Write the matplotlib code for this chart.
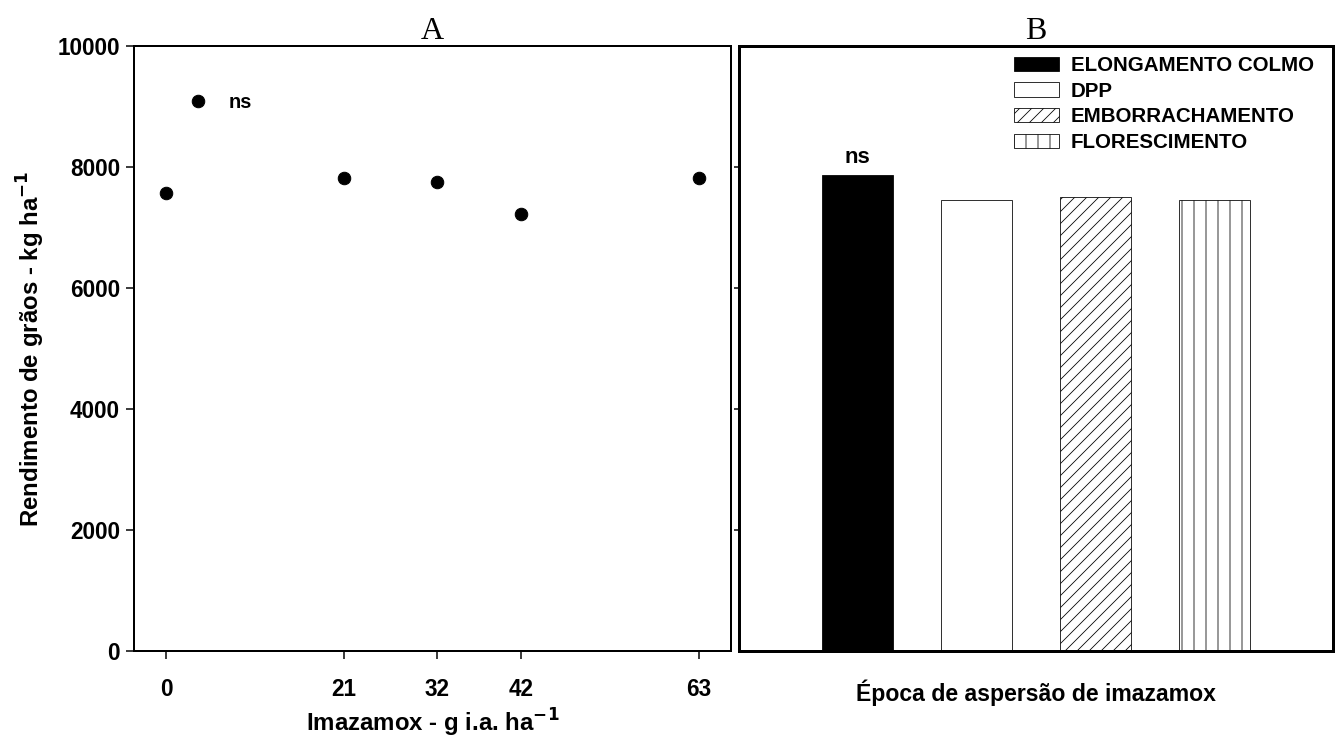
import matplotlib
matplotlib.use("Agg")
import matplotlib.pyplot as plt
import numpy as np
from matplotlib.lines import Line2D

plt.rcParams['font.family'] = ['Liberation Sans', 'DejaVu Sans']
plt.rcParams['font.weight'] = 'bold'
plt.rcParams['hatch.linewidth'] = 0.8

# panel A: yield vs imazamox dose
doses = [0, 21, 32, 42, 63]
rend_dose = [7570, 7820, 7760, 7230, 7820]

# panel B: yield by application timing
epocas = ['ELONGAMENTO COLMO', 'DPP', 'EMBORRACHAMENTO', 'FLORESCIMENTO']
rend_epoca = [7870, 7450, 7500, 7460]
hatches = ['', '', '//', '|']
cores = ['black', 'white', 'white', 'white']

fig = plt.figure(figsize=(1336 / 72, 749 / 72), dpi=72)
ax1 = fig.add_axes([134 / 1336, 1 - 651 / 749, (731 - 134) / 1336, (651 - 46) / 749])
ax2 = fig.add_axes([739 / 1336, 1 - 651 / 749, (1333 - 739) / 1336, (651 - 46) / 749])

# --- A ---
ax1.plot(doses, rend_dose, 'o', color='black', ms=12.5, clip_on=False)
ax1.set_xlim(-3.8, 66.8)
ax1.set_ylim(0, 10000)
ax1.set_xticks(doses)
ax1.set_yticks([0, 2000, 4000, 6000, 8000, 10000])
ax1.tick_params(axis='both', labelsize=22.5, length=8, width=1.5, direction='out', pad=19)
ax1.tick_params(axis='y', pad=6)
for s in ax1.spines.values():
    s.set_linewidth(2)
ax1.set_xlabel('Imazamox - g i.a. ha$^{\\mathbf{-1}}$', fontsize=24, fontweight='bold', labelpad=6)
ax1.set_ylabel('Rendimento de grãos - kg ha$^{\\mathbf{-1}}$', fontsize=24, fontweight='bold', labelpad=10)
ax1.set_title('A', fontsize=32, family='Liberation Serif', fontweight='normal', pad=4)
ns_handle = Line2D([], [], marker='o', color='black', ls='none', ms=12.5)
ax1.legend([ns_handle], ['ns'], loc='upper left', frameon=False, prop={'size': 20, 'weight': 'bold'},
           bbox_to_anchor=(0.06, 0.935), handletextpad=0.55, borderaxespad=0)

# --- B ---
pos = np.arange(len(epocas))
barras = ax2.bar(pos, rend_epoca, width=0.6, color=cores, edgecolor='black',
                 linewidth=0.8, hatch=hatches, label=epocas)
ax2.set_xlim(-1, 4)
ax2.set_ylim(0, 10000)
ax2.set_xticks([])
ax2.set_yticks([2000, 4000, 6000, 8000])
ax2.tick_params(axis='y', labelleft=False, length=5, width=1.5, direction='out')
for s in ax2.spines.values():
    s.set_linewidth(3)
ax2.text(pos[0], rend_epoca[0] + 120, 'ns', ha='center', va='bottom', fontsize=22, fontweight='bold')
ax2.set_xlabel('Época de aspersão de imazamox', fontsize=23, fontweight='bold', labelpad=28)
ax2.set_title('B', fontsize=32, family='Liberation Serif', fontweight='normal', pad=4)
ax2.legend(loc='upper right', frameon=False, prop={'size': 20.5, 'weight': 'bold'},
           handlelength=2.2, handleheight=0.7, labelspacing=0.32, handletextpad=0.55,
           borderaxespad=0.2, borderpad=0.3, bbox_to_anchor=(1 - 9 / 594, 1.0))

fig.savefig('out.png', dpi=72)
